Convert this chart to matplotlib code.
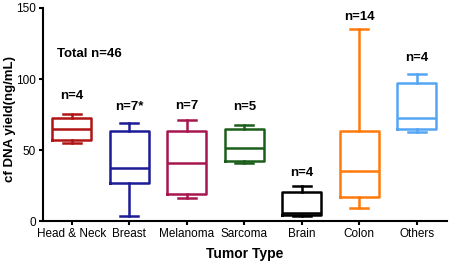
import matplotlib
matplotlib.use('Agg')
import matplotlib.pyplot as plt

plt.rcParams['font.family'] = ['Liberation Sans', 'DejaVu Sans']

# Data (five-number summaries)
categories = ['Head & Neck', 'Breast', 'Melanoma', 'Sarcoma', 'Brain', 'Colon', 'Others']
whis_lo = [55.2, 3.5, 16.0, 40.6, 3.5, 8.9, 62.9]
q1 = [57.0, 27.0, 18.8, 42.3, 4.5, 16.7, 64.6]
medians = [64.6, 37.5, 40.6, 51.2, 6.0, 35.2, 72.3]
q3 = [72.7, 63.4, 63.4, 64.8, 20.2, 63.6, 97.0]
whis_hi = [75.4, 68.8, 71.1, 67.6, 24.6, 135.0, 103.5]
n_labels = ['n=4', 'n=7*', 'n=7', 'n=5', 'n=4', 'n=14', 'n=4']
n_label_y = [88, 80, 81, 80, 34, 144, 115]
colors = ['#B01414', '#1C1C96', '#A8164F', '#1B5E1B', '#000000', '#FF7A0A', '#55A5F5']

fig = plt.figure(figsize=(4.5, 2.66), dpi=100)
ax = fig.add_axes([0.0956, 0.169, 0.897, 0.801])

stats = []
for i, name in enumerate(categories):
    stats.append({'label': name, 'whislo': whis_lo[i], 'q1': q1[i], 'med': medians[i],
                  'q3': q3[i], 'whishi': whis_hi[i], 'fliers': []})

positions = list(range(len(categories)))
bp = ax.bxp(stats, positions=positions, widths=0.68, capwidths=0.32,
            showfliers=False, patch_artist=False)

for i, c in enumerate(colors):
    bp['boxes'][i].set(color=c, linewidth=1.8)
    bp['medians'][i].set(color=c, linewidth=1.8)
    for j in (2 * i, 2 * i + 1):
        bp['whiskers'][j].set(color=c, linewidth=1.8)
        bp['caps'][j].set(color=c, linewidth=1.8)

for i, txt in enumerate(n_labels):
    ax.text(positions[i], n_label_y[i], txt, ha='center', va='center',
            fontsize=9.5, fontweight='bold')

ax.text(-0.25, 117.6, 'Total n=46', ha='left', va='center', fontsize=9.5, fontweight='bold')

ax.set_xlim(-0.5, 6.52)
ax.set_ylim(0, 150)
ax.set_yticks([0, 50, 100, 150])
ax.set_xticks(positions)
ax.set_xticklabels(categories)

ax.spines['top'].set_visible(False)
ax.spines['right'].set_visible(False)
ax.spines['left'].set_linewidth(1.5)
ax.spines['bottom'].set_linewidth(1.5)
ax.tick_params(axis='both', labelsize=8.5, width=1.5, length=3, pad=2)

ax.set_ylabel('cf DNA yield(ng/mL)', fontsize=9.5, fontweight='bold')
ax.yaxis.set_label_coords(-0.068, 0.48)
ax.set_xlabel('Tumor Type', fontsize=10, fontweight='bold', labelpad=5)

fig.savefig('out.png', dpi=100)
